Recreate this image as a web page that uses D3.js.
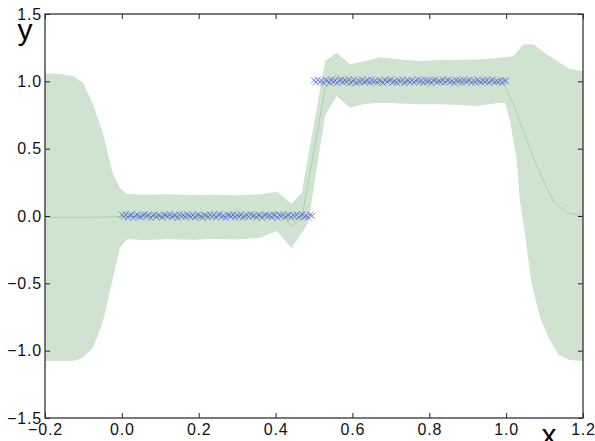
<!DOCTYPE html>
<html>
<head>
<meta charset="utf-8">
<script src="https://cdn.jsdelivr.net/npm/d3@7"></script>
<style>
  body { margin: 0; background: #fff; }
  svg { display: block; }
  .tick text { font-family: "Liberation Sans", Arial, sans-serif; font-size: 16px; letter-spacing: 0.8px; fill: #111; }
</style>
</head>
<body>
<div id="chart"></div>
<script>
var width = 595,
  height = 441,
  margin = { top: 14, right: 12, bottom: 23, left: 45 };

// confidence band, upper edge
var upperX = [-0.2, -0.161, -0.127, -0.101, -0.075, -0.049, -0.023, -0.005, 0.013, 0.06, 0.12, 0.18, 0.24, 0.30, 0.36, 0.403, 0.442, 0.468, 0.529, 0.559, 0.594, 0.628, 0.672, 0.724, 0.776, 0.828, 0.88, 0.932, 0.984, 1.019, 1.045, 1.071, 1.106, 1.166, 1.2];
var upperY = [1.06, 1.055, 1.04, 0.99, 0.83, 0.61, 0.31, 0.21, 0.163, 0.158, 0.162, 0.155, 0.158, 0.152, 0.161, 0.18, 0.091, 0.173, 1.151, 1.212, 1.126, 1.148, 1.178, 1.163, 1.151, 1.158, 1.16, 1.163, 1.175, 1.188, 1.275, 1.275, 1.2, 1.089, 1.076];

// confidence band, lower edge
var lowerX = [-0.2, -0.161, -0.127, -0.101, -0.075, -0.049, -0.023, -0.005, 0.013, 0.06, 0.12, 0.18, 0.24, 0.30, 0.36, 0.403, 0.442, 0.485, 0.529, 0.559, 0.594, 0.628, 0.672, 0.724, 0.776, 0.828, 0.88, 0.923, 0.984, 0.997, 1.01, 1.027, 1.036, 1.049, 1.066, 1.088, 1.11, 1.136, 1.166, 1.2];
var lowerY = [-1.076, -1.076, -1.076, -1.05, -0.978, -0.78, -0.458, -0.235, -0.173, -0.178, -0.172, -0.176, -0.17, -0.175, -0.161, -0.111, -0.24, -0.05, 0.75, 0.891, 0.804, 0.829, 0.841, 0.835, 0.829, 0.829, 0.825, 0.817, 0.841, 0.841, 0.705, 0.433, 0.11, -0.13, -0.5, -0.75, -0.9, -1.03, -1.07, -1.076];

// predicted mean
var meanX = [-0.2, -0.1, -0.05, 0.0, 0.1, 0.2, 0.3, 0.36, 0.403, 0.442, 0.468, 0.529, 0.559, 0.594, 0.628, 0.7, 0.8, 0.9, 0.993, 1.019, 1.045, 1.071, 1.097, 1.123, 1.158, 1.2];
var meanY = [-0.01, -0.01, -0.008, -0.005, 0, 0, 0, 0, 0.03, -0.07, -0.02, 0.95, 1.05, 0.965, 0.99, 1.0, 1.0, 1.0, 0.98, 0.83, 0.63, 0.43, 0.26, 0.11, 0.025, 0];

// observed points
var dataX = [0, 0.005, 0.01, 0.015, 0.02, 0.025, 0.03, 0.035, 0.04, 0.045,
  0.05, 0.055, 0.06, 0.065, 0.07, 0.075, 0.08, 0.085, 0.09, 0.095,
  0.1, 0.105, 0.11, 0.115, 0.12, 0.125, 0.13, 0.135, 0.14, 0.145,
  0.15, 0.155, 0.16, 0.165, 0.17, 0.175, 0.18, 0.185, 0.19, 0.195,
  0.2, 0.205, 0.21, 0.215, 0.22, 0.225, 0.23, 0.235, 0.24, 0.245,
  0.25, 0.255, 0.26, 0.265, 0.27, 0.275, 0.28, 0.285, 0.29, 0.295,
  0.3, 0.305, 0.31, 0.315, 0.32, 0.325, 0.33, 0.335, 0.34, 0.345,
  0.35, 0.355, 0.36, 0.365, 0.37, 0.375, 0.38, 0.385, 0.39, 0.395,
  0.4, 0.405, 0.41, 0.415, 0.42, 0.425, 0.43, 0.435, 0.44, 0.445,
  0.45, 0.455, 0.46, 0.465, 0.47, 0.475, 0.48, 0.485, 0.49, 0.495,
  0.5, 0.505, 0.51, 0.515, 0.52, 0.525, 0.53, 0.535, 0.54, 0.545,
  0.55, 0.555, 0.56, 0.565, 0.57, 0.575, 0.58, 0.585, 0.59, 0.595,
  0.6, 0.605, 0.61, 0.615, 0.62, 0.625, 0.63, 0.635, 0.64, 0.645,
  0.65, 0.655, 0.66, 0.665, 0.67, 0.675, 0.68, 0.685, 0.69, 0.695,
  0.7, 0.705, 0.71, 0.715, 0.72, 0.725, 0.73, 0.735, 0.74, 0.745,
  0.75, 0.755, 0.76, 0.765, 0.77, 0.775, 0.78, 0.785, 0.79, 0.795,
  0.8, 0.805, 0.81, 0.815, 0.82, 0.825, 0.83, 0.835, 0.84, 0.845,
  0.85, 0.855, 0.86, 0.865, 0.87, 0.875, 0.88, 0.885, 0.89, 0.895,
  0.9, 0.905, 0.91, 0.915, 0.92, 0.925, 0.93, 0.935, 0.94, 0.945,
  0.95, 0.955, 0.96, 0.965, 0.97, 0.975, 0.98, 0.985, 0.99, 0.995, 1.0];
var dataY = [0.01, -0.006, 0.012, -0.01, 0.004, 0.009, -0.013, 0.002, 0.011, -0.004,
  -0.009, 0.006, 0.013, -0.002, 0.008, -0.012, 0.003, 0.01, -0.007, 0.005,
  0.0, -0.011, 0.009, 0.004, -0.005, 0.012, -0.008, 0.002, 0.007, -0.013,
  0.011, -0.003, 0.006, -0.009, 0.013, 0.001, -0.006, 0.008, -0.011, 0.004,
  0.009, -0.002, -0.012, 0.006, 0.003, -0.008, 0.012, -0.004, 0.01, -0.01,
  0.005, 0.014, -0.007, 0.002, -0.012, 0.009, 0.004, -0.003, 0.011, -0.009,
  0.007, -0.005, 0.012, -0.011, 0.001, 0.008, -0.006, 0.013, -0.002, 0.004,
  -0.01, 0.009, 0.003, -0.013, 0.006, 0.011, -0.004, 0.002, -0.008, 0.01,
  0.005, -0.012, 0.008, -0.001, 0.012, -0.007, 0.003, 0.009, -0.01, 0.006,
  -0.003, 0.011, -0.009, 0.004, 0.013, -0.006, 0.001, -0.011, 0.008, 0.002,
  1.008, 0.992, 1.012, 0.996, 1.005, 0.988, 1.01, 1.002, 0.991, 1.013,
  0.995, 1.007, 0.989, 1.004, 1.011, 0.993, 1.009, 0.998, 1.014, 0.99,
  1.003, 1.01, 0.987, 1.006, 0.997, 1.012, 0.994, 1.001, 1.009, 0.99,
  1.013, 0.996, 1.005, 0.992, 1.008, 1.0, 0.989, 1.011, 0.995, 1.006,
  1.014, 0.993, 1.002, 0.99, 1.009, 0.997, 1.012, 0.988, 1.004, 1.007,
  0.994, 1.01, 0.991, 1.003, 1.013, 0.996, 1.006, 0.99, 1.011, 0.998,
  1.005, 0.989, 1.008, 1.012, 0.993, 1.001, 0.997, 1.014, 0.992, 1.006,
  1.009, 0.995, 1.003, 0.988, 1.011, 0.999, 1.007, 0.991, 1.013, 0.996,
  1.004, 1.01, 0.989, 1.006, 0.994, 1.012, 1.0, 0.992, 1.008, 0.997,
  1.011, 0.99, 1.005, 1.013, 0.993, 1.003, 0.996, 1.009, 0.991, 1.006, 1.002];

var xTicks = [-0.2, 0.0, 0.2, 0.4, 0.6, 0.8, 1.0, 1.2];
var yTicks = [-1.5, -1.0, -0.5, 0.0, 0.5, 1.0, 1.5];

var x = d3.scaleLinear().domain([-0.2, 1.2]).range([margin.left, width - margin.right]);
var y = d3.scaleLinear().domain([-1.5, 1.5]).range([height - margin.bottom, margin.top]);

var svg = d3.select("#chart").append("svg")
  .attr("width", width)
  .attr("height", height);

svg.append("defs").append("clipPath").attr("id", "plot")
  .append("rect")
  .attr("x", x(-0.2)).attr("y", y(1.5))
  .attr("width", x(1.2) - x(-0.2)).attr("height", y(-1.5) - y(1.5));

var plot = svg.append("g").attr("clip-path", "url(#plot)");

//band polygon: upper edge left to right, then lower edge back
var bandPts = upperX.map(function(d, i) { return [d, upperY[i]]; })
  .concat(lowerX.map(function(d, i) { return [d, lowerY[i]]; }).reverse());

var line = d3.line()
  .x(function(d) { return x(d[0]); })
  .y(function(d) { return y(d[1]); });

plot.append("path")
  .attr("d", line(bandPts) + "Z")
  .attr("fill", "#cfe3d0")
  .attr("stroke", "none");

plot.append("path")
  .attr("d", line(meanX.map(function(d, i) { return [d, meanY[i]]; })))
  .attr("fill", "none")
  .attr("stroke", "#a9d3ab")
  .attr("stroke-width", 1);

//crosses
var s = 3.2;
plot.selectAll("path.pt")
  .data(dataX.map(function(d, i) { return [d, dataY[i]]; }))
  .enter().append("path")
  .attr("class", "pt")
  .attr("d", function(d) {
    var px = x(d[0]), py = y(d[1]);
    return "M" + (px - s) + "," + (py - s) + "L" + (px + s) + "," + (py + s) +
      "M" + (px - s) + "," + (py + s) + "L" + (px + s) + "," + (py - s);
  })
  .attr("stroke", "#4a5fd6")
  .attr("stroke-opacity", 0.7)
  .attr("stroke-width", 0.9);

//axes, ticks pointing inward on all four sides
var fmt = d3.format(".1f");

svg.append("g")
  .attr("transform", "translate(0," + y(-1.5) + ")")
  .call(d3.axisBottom(x).tickValues(xTicks).tickFormat(fmt).tickSizeInner(-5).tickSizeOuter(0).tickPadding(6));

svg.append("g")
  .attr("transform", "translate(0," + y(1.5) + ")")
  .call(d3.axisTop(x).tickValues(xTicks).tickFormat("").tickSizeInner(-5).tickSizeOuter(0));

svg.append("g")
  .attr("transform", "translate(" + x(-0.2) + ",0)")
  .call(d3.axisLeft(y).tickValues(yTicks).tickFormat(fmt).tickSizeInner(-5).tickSizeOuter(0).tickPadding(3));

svg.append("g")
  .attr("transform", "translate(" + x(1.2) + ",0)")
  .call(d3.axisRight(y).tickValues(yTicks).tickFormat("").tickSizeInner(-5).tickSizeOuter(0));

svg.selectAll(".domain").remove();
svg.selectAll(".tick line").attr("stroke", "#222");

svg.append("rect")
  .attr("x", x(-0.2)).attr("y", y(1.5))
  .attr("width", x(1.2) - x(-0.2)).attr("height", y(-1.5) - y(1.5))
  .attr("fill", "none")
  .attr("stroke", "#333")
  .attr("stroke-width", 1.3);

//axis labels
svg.append("text")
  .attr("x", 25).attr("y", 40)
  .attr("text-anchor", "middle")
  .style("font-family", "Liberation Sans, Arial, sans-serif")
  .style("font-size", "30px")
  .text("y");

svg.append("text")
  .attr("x", 549).attr("y", 445)
  .attr("text-anchor", "middle")
  .style("font-family", "Liberation Sans, Arial, sans-serif")
  .style("font-size", "30px")
  .text("x");
</script>
</body>
</html>
